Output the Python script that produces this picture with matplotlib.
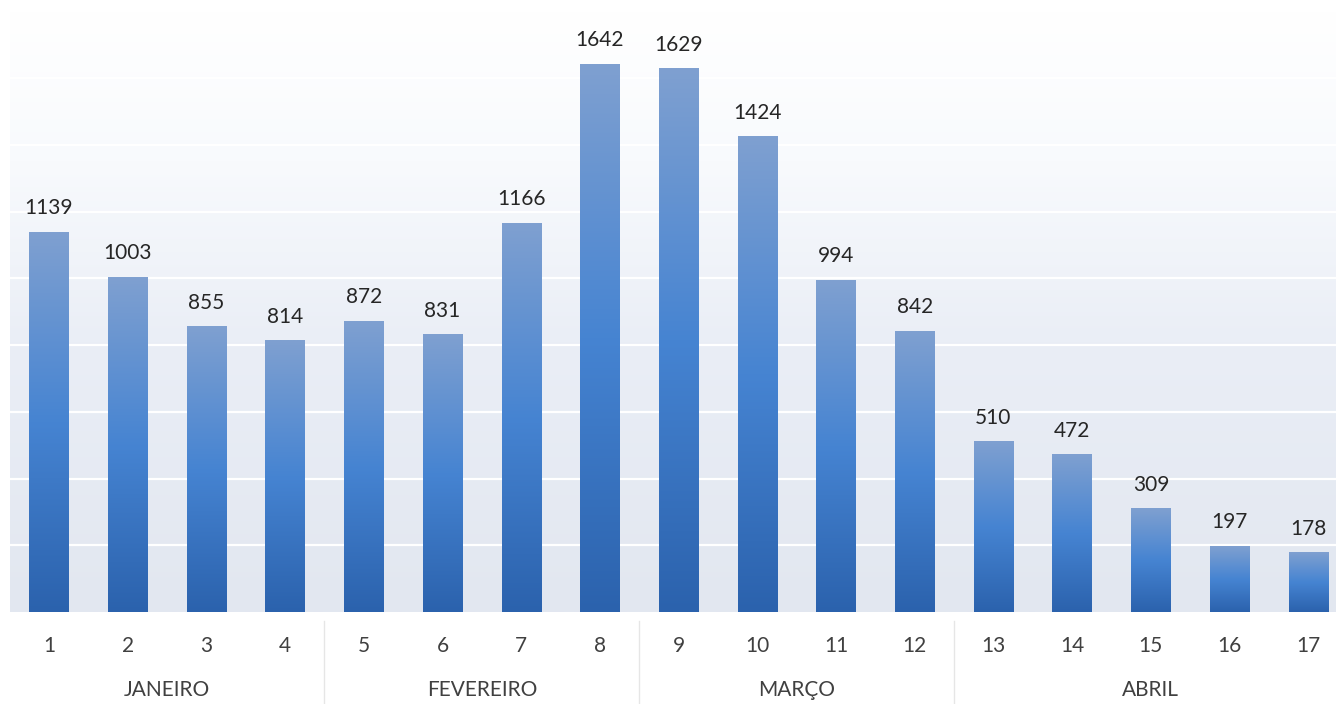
import numpy as np
import matplotlib.pyplot as plt
from matplotlib.colors import LinearSegmentedColormap
import matplotlib.transforms as mtransforms

plt.rcParams['font.family'] = ['Lato', 'DejaVu Sans']

weeks = list(range(1, 18))
values = [1139, 1003, 855, 814, 872, 831, 1166, 1642, 1629, 1424, 994, 842,
          510, 472, 309, 197, 178]
months = ['JANEIRO', 'FEVEREIRO', 'MARÇO', 'ABRIL']
month_weeks = [(1, 4), (5, 8), (9, 12), (13, 17)]

fig = plt.figure(figsize=(13.36, 7.04), dpi=100)
ax = fig.add_axes([0.0072, 0.1307, 1.0015, 0.853])
ax.set_xlim(0.5, 17.5)
ax.set_ylim(0, 1800)

# background gradient of the plot area (white on top, pale blue-grey at bottom)
bg_cmap = LinearSegmentedColormap.from_list(
    'bg', [(0, '#e2e7f0'), (0.45, '#eaeef6'), (0.75, '#f8fafd'), (1, '#ffffff')])
grad = np.linspace(0, 1, 256).reshape(-1, 1)
ax.imshow(grad, extent=[0.5, 17.5, 0, 1800], origin='lower', aspect='auto',
          cmap=bg_cmap, zorder=0)

for y in range(200, 1800, 200):
    ax.axhline(y, color='white', lw=1.6, zorder=1)

# bars with a vertical gradient fill
bar_cmap = LinearSegmentedColormap.from_list(
    'bar', [(0, '#2b62ad'), (0.5, '#4684d2'), (1, '#7fa0d0')])
bars = ax.bar(weeks, values, width=0.5, color='none', zorder=2)
for rect in bars:
    x0 = rect.get_x()
    w = rect.get_width()
    h = rect.get_height()
    ax.imshow(grad, extent=[x0, x0 + w, 0, h], origin='lower', aspect='auto',
              cmap=bar_cmap, zorder=2)
    ax.annotate('%d' % h, (x0 + w / 2, h), xytext=(0, 10),
                textcoords='offset points', ha='center', va='bottom',
                fontsize=15, color='#262626')

ax.set_xlim(0.5, 17.5)
ax.set_ylim(0, 1800)

for s in ax.spines.values():
    s.set_visible(False)
ax.set_yticks([])
ax.set_xticks(weeks)
ax.set_xticklabels([str(w) for w in weeks], fontsize=15, color='#404040')
ax.tick_params(axis='x', length=0, pad=17)

# month group labels and separators
trans = mtransforms.blended_transform_factory(ax.transData, ax.transAxes)
for name, (a, b) in zip(months, month_weeks):
    ax.text((a + b) / 2, -0.13, name, transform=trans, ha='center',
            va='center', fontsize=15, color='#404040')
for xs in [4.5, 8.5, 12.5]:
    ax.plot([xs, xs], [-0.015, -0.2], transform=trans, color='#e6e6e6',
            lw=1, clip_on=False)

fig.savefig('out.png', dpi=100, facecolor='white')
